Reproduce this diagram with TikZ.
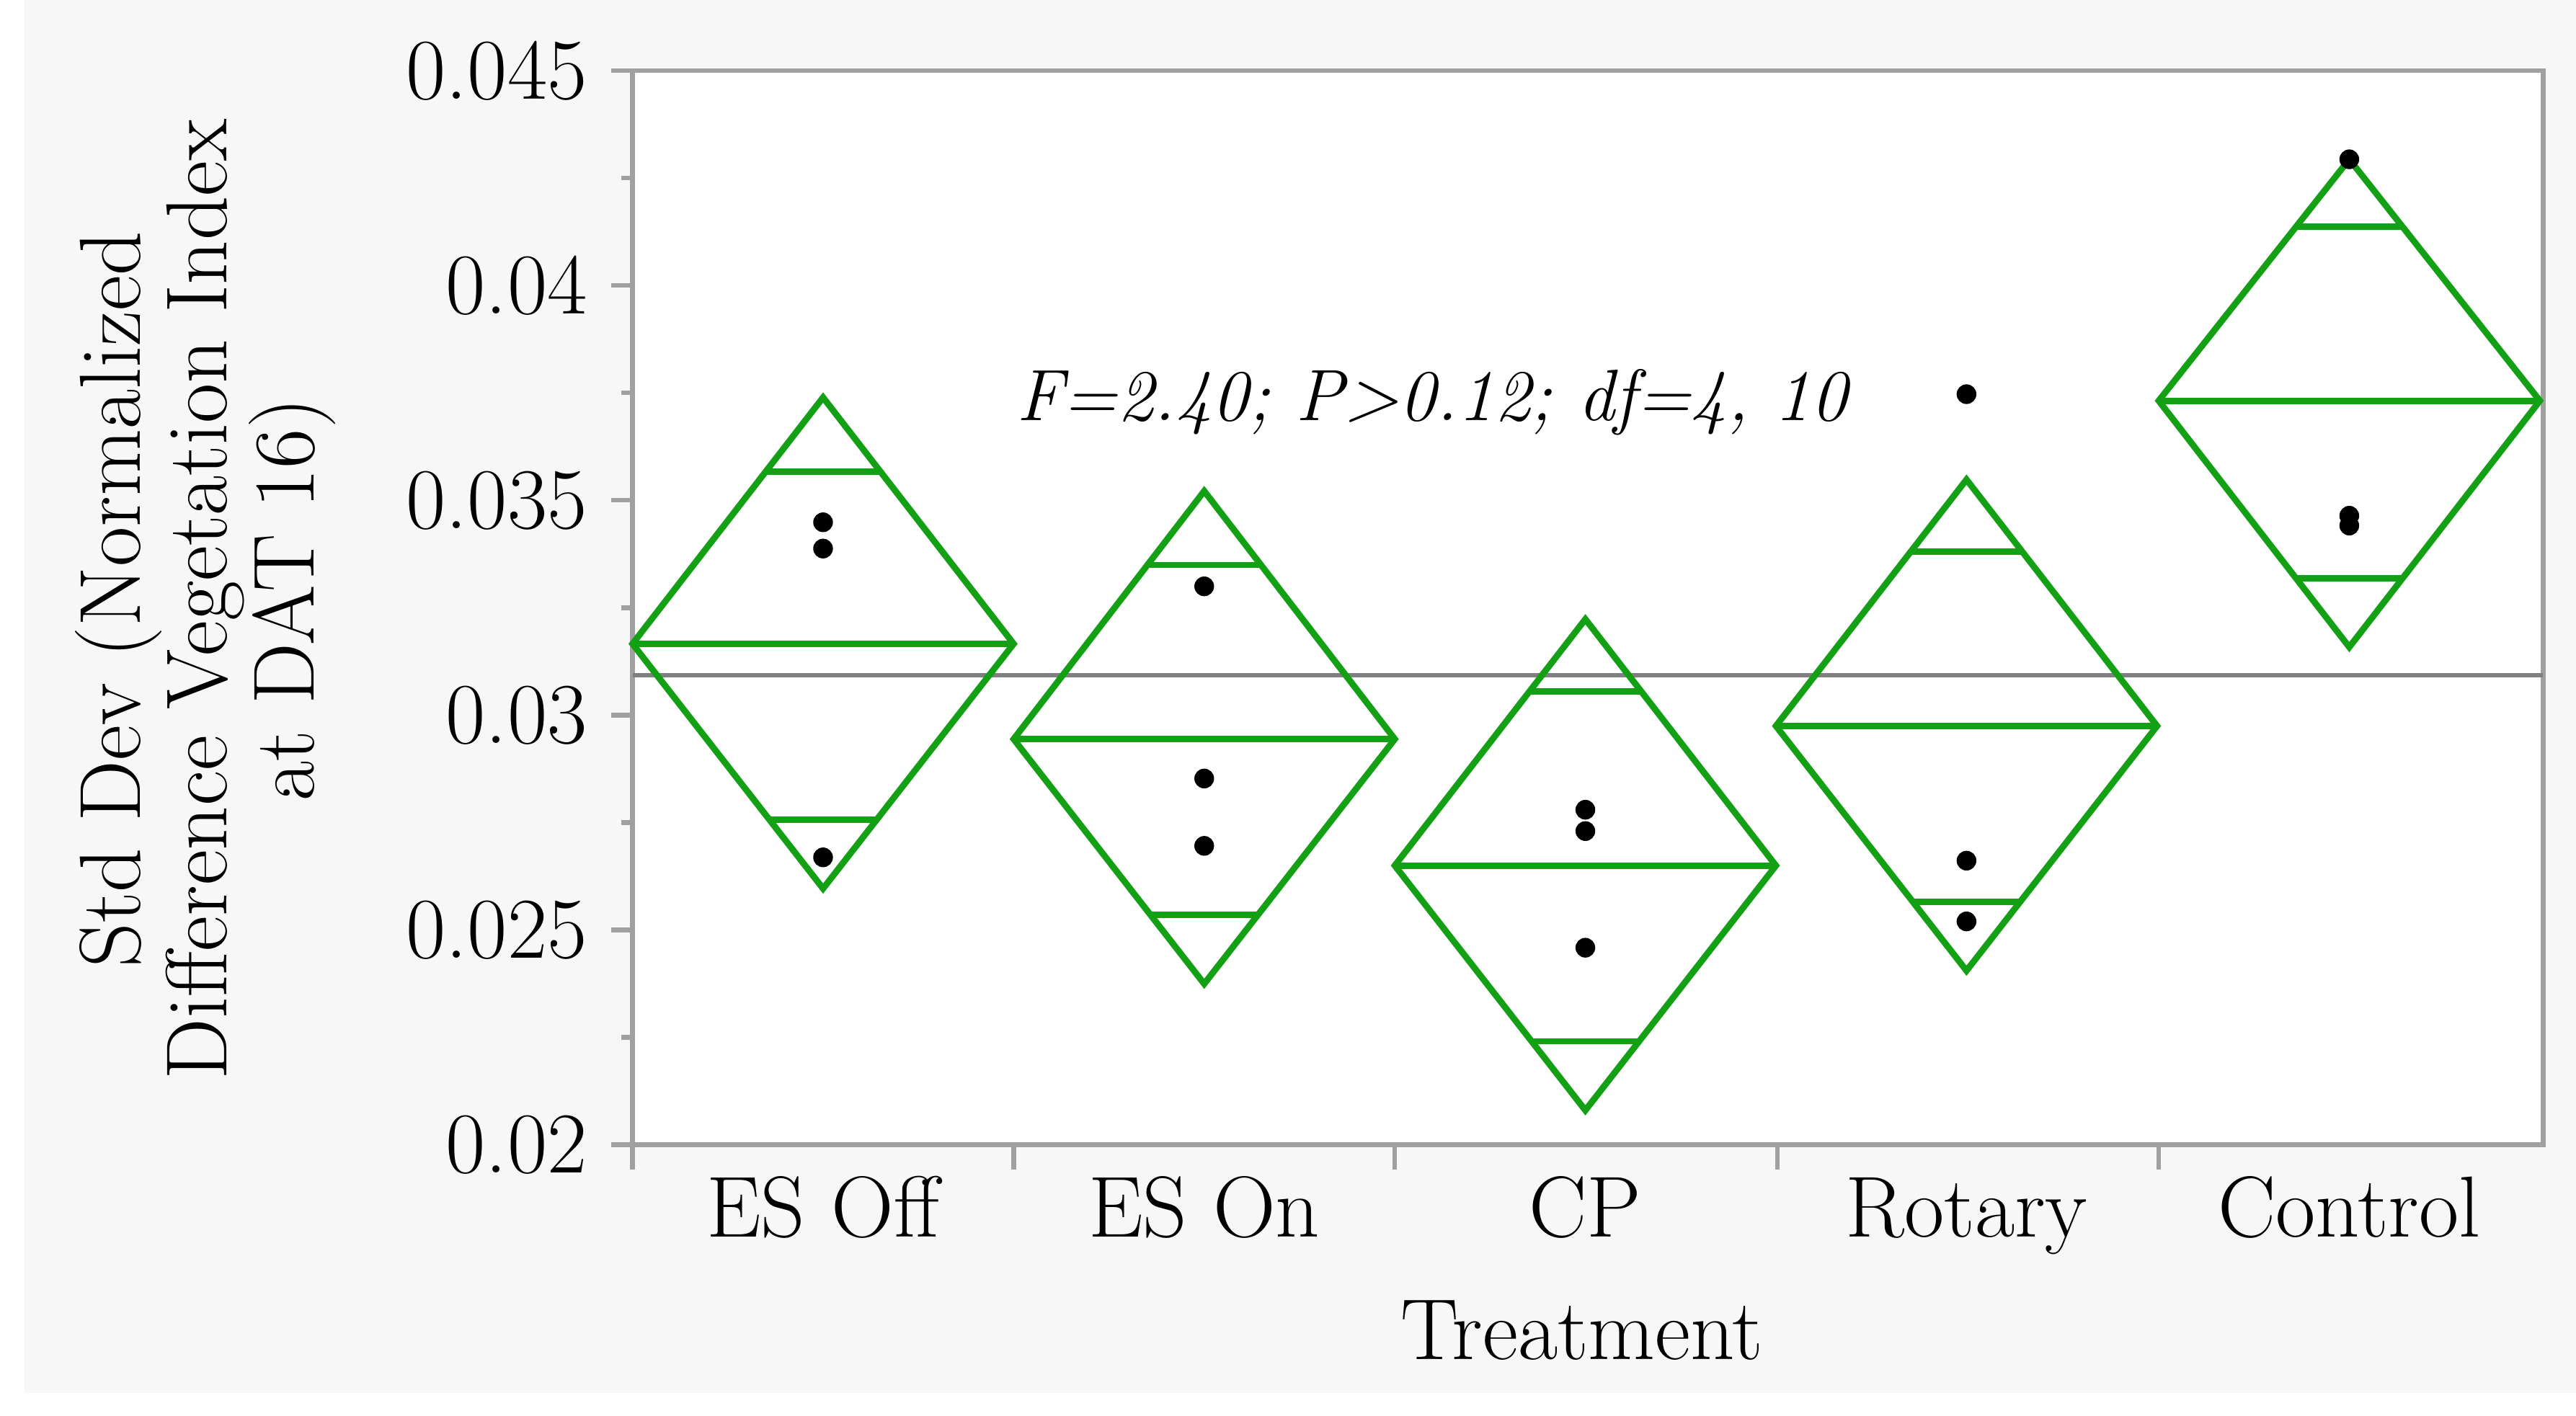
\documentclass[tikz,border=0pt]{standalone}
\usepackage{tikz}
\usepackage{xcolor}
\usetikzlibrary{positioning, calc}
\definecolor{frame}{RGB}{160,160,160}
\definecolor{panel}{RGB}{247,247,247}
\definecolor{diam}{RGB}{20,160,20}
\begin{document}
\begin{tikzpicture}[x=0.01cm, y=-0.01cm,
    lbl/.style={font=\fontsize{15}{17}\selectfont, inner sep=0pt},
    diamline/.style={draw=diam, line width=1.1pt},
    pt/.style={circle, fill=black, inner sep=0pt, minimum size=0.12cm}]
    \useasboundingbox (0,0) rectangle (1568,862);
    \fill[white] (0,0) rectangle (1568,862);
    \fill[panel] (15,0) rectangle (1568,848);
    \fill[white] (385,43) rectangle (1548,697);
    % frame and grand mean
    \draw[frame, line width=0.8pt] (385,43) rectangle (1548,697);
    \draw[gray, line width=0.8pt] (385,411) -- (1548,411);
    % y ticks
    \foreach \v/\t in {0/0.045, 1/0.04, 2/0.035, 3/0.03, 4/0.025, 5/0.02} {
        \draw[frame, line width=0.8pt] (372,43+130.8*\v) -- (385,43+130.8*\v);
        \node[lbl, anchor=east] at (358,43+130.8*\v) {\t};
    }
    \foreach \v in {0,...,4}
        \draw[frame, line width=0.8pt] (378,108.4+130.8*\v) -- (385,108.4+130.8*\v);
    % x ticks and labels
    \foreach \x in {385,617,849,1082,1314}
        \draw[frame, line width=0.8pt] (\x,697) -- (\x,712);
    \foreach \x/\t in {501/ES Off, 733/ES On, 965/CP, 1197/Rotary, 1430/Control}
        \node[lbl, anchor=base] (cat\x) at (\x,753) {\t};
    \node[lbl] (xlab) at (963,810) {Treatment};
    \node[lbl, rotate=90, align=center] (ylab) at (125,365)
        {Std Dev (Normalized\\[-2pt]Difference Vegetation Index\\[-2pt]at DAT 16)};
    % diamonds: center / top / mean / bottom / inner lines
    \foreach \c/\tp/\m/\bt/\ia/\ib in {501/242/392/541/287/499, 733/299/450/599/344/557,
        965/377/527/676/421/634, 1197/292/442/591/336/549, 1430/97/244/394/138/352} {
        \draw[diamline] (\c,\tp) -- (\c+116,\m) -- (\c,\bt) -- (\c-116,\m) -- cycle;
        \draw[diamline] (\c-116,\m) -- (\c+116,\m);
        \pgfmathsetmacro{\wa}{116*(1-(\m-\ia)/(\m-\tp))}
        \pgfmathsetmacro{\wb}{116*(1-(\ib-\m)/(\bt-\m))}
        \draw[diamline] (\c-\wa,\ia) -- (\c+\wa,\ia);
        \draw[diamline] (\c-\wb,\ib) -- (\c+\wb,\ib);
    }
    % observations
    \foreach \c/\y in {501/318, 501/334, 501/522, 733/357, 733/474, 733/515,
        965/493, 965/506, 965/577, 1197/240, 1197/524, 1197/561,
        1430/97, 1430/314, 1430/320}
        \node[pt] at (\c,\y) {};
    \node[inner sep=0pt, anchor=west] (stat) at (618,245)
        {\fontsize{12.6}{15}\selectfont\itshape F=2.40; P>0.12; df=4, 10};
\end{tikzpicture}
\end{document}
